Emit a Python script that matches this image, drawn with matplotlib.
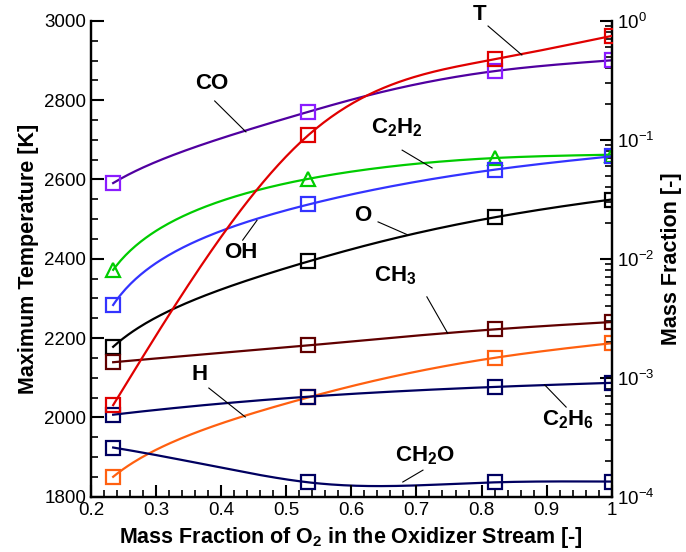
import numpy as np
import matplotlib.pyplot as plt
from matplotlib.ticker import MultipleLocator, LogLocator, NullFormatter, FuncFormatter

plt.rcParams['font.family'] = ['Liberation Sans', 'DejaVu Sans']
plt.rcParams['mathtext.fontset'] = 'custom'
plt.rcParams['mathtext.rm'] = 'Liberation Sans'
plt.rcParams['mathtext.bf'] = 'Liberation Sans:bold'

# data
x_o2 = [0.234, 0.534, 0.82, 1.0]
temp = [2031, 2712, 2903, 2962]
y_co = [0.0433, 0.172, 0.378, 0.466]
y_c2h2 = [0.00807, 0.047, 0.0703, 0.075]
y_oh = [0.00409, 0.0286, 0.0561, 0.0726]
y_o = [0.00182, 0.0095, 0.0223, 0.0315]
y_ch3 = [0.00135, 0.00187, 0.00255, 0.00294]
y_h = [0.000147, 0.000684, 0.00147, 0.00195]
y_c2h6 = [0.000489, 0.000693, 0.000837, 0.000906]
y_ch2o = [0.000259, 0.000132, 0.000132, 0.000134]


def spline(x, y, n=200):
    # natural cubic spline through the points, only for drawing the smooth line
    x = np.asarray(x, float)
    y = np.asarray(y, float)
    h = np.diff(x)
    k = len(x)
    A = np.zeros((k, k))
    b = np.zeros(k)
    A[0, 0] = A[-1, -1] = 1
    for i in range(1, k - 1):
        A[i, i - 1] = h[i - 1]
        A[i, i] = 2 * (h[i - 1] + h[i])
        A[i, i + 1] = h[i]
        b[i] = 6 * ((y[i + 1] - y[i]) / h[i] - (y[i] - y[i - 1]) / h[i - 1])
    M = np.linalg.solve(A, b)
    xs = np.linspace(x[0], x[-1], n)
    j = np.clip(np.searchsorted(x, xs) - 1, 0, k - 2)
    t1 = x[j + 1] - xs
    t0 = xs - x[j]
    ys = (M[j] * t1**3 + M[j + 1] * t0**3) / (6 * h[j]) \
        + (y[j] / h[j] - M[j] * h[j] / 6) * t1 \
        + (y[j + 1] / h[j] - M[j + 1] * h[j] / 6) * t0
    return xs, ys


fig = plt.figure(figsize=(6.86, 5.52), dpi=100)
ax = fig.add_axes([0.1327, 0.1002, 0.759, 0.862])
ax2 = ax.twinx()

# mass fractions on the log axis
series = [
    (y_co, '#5000a0', '#8a1cff', 's'),
    (y_c2h2, '#00cc00', '#00cc00', '^'),
    (y_oh, '#3333ff', '#3333ff', 's'),
    (y_o, 'black', 'black', 's'),
    (y_ch3, '#600000', '#600000', 's'),
    (y_h, '#ff6010', '#ff6010', 's'),
    (y_c2h6, '#000060', '#000060', 's'),
    (y_ch2o, '#000060', '#000060', 's'),
]
for vals, lc, mc, mk in series:
    xs, ys = spline(x_o2, vals)
    ax2.plot(xs, ys, color=lc, lw=1.6)
    ax2.plot(x_o2, vals, ls='none', marker=mk, ms=10, mfc='none', mec=mc, mew=1.6)

xs, ts = spline(x_o2, temp)
ax.plot(xs, ts, color='#e00000', lw=1.6, zorder=5)
ax.plot(x_o2, temp, ls='none', marker='s', ms=10, mfc='none', mec='#e00000', mew=1.6, zorder=5)
ax.set_zorder(ax2.get_zorder() + 1)
ax.patch.set_visible(False)

ax.set_xlim(0.2, 1.0)
ax.set_ylim(1800, 3000)
ax2.set_yscale('log')
ax2.set_ylim(1e-4, 1)

ax.xaxis.set_major_locator(MultipleLocator(0.1))
ax.xaxis.set_minor_locator(MultipleLocator(0.02))
ax.xaxis.set_major_formatter(FuncFormatter(lambda v, p: '%g' % round(v, 2)))
ax.yaxis.set_major_locator(MultipleLocator(200))
ax.yaxis.set_minor_locator(MultipleLocator(50))
ax2.yaxis.set_major_locator(LogLocator(base=10, numticks=10))
ax2.yaxis.set_minor_locator(LogLocator(base=10, subs=np.arange(2, 10), numticks=20))
ax2.yaxis.set_minor_formatter(NullFormatter())

for a in (ax, ax2):
    a.tick_params(which='major', direction='in', length=9, width=1.5, labelsize=13.5)
    a.tick_params(which='minor', direction='in', length=5, width=1.2)
    a.spines['top'].set_visible(False)
    for s in a.spines.values():
        s.set_linewidth(1.6)
ax.tick_params(axis='x', pad=4)

ax.set_xlabel(r'Mass Fraction of O$_\mathbf{2}$ in the Oxidizer Stream [-]', fontsize=15.5, fontweight='bold')
ax.set_ylabel('Maximum Temperature [K]', fontsize=15.5, fontweight='bold', labelpad=4)
ax2.set_ylabel('Mass Fraction [-]', fontsize=15.5, fontweight='bold', labelpad=5)

# curve labels with leader lines (temperature-axis coordinates)
labels = [
    ('T', (0.7975, 3017), (0.810, 2987), (0.862, 2914)),
    ('CO', (0.386, 2841), (0.390, 2798), (0.438, 2720)),
    (r'$\mathbf{C_2H_2}$', (0.670, 2730), (0.678, 2674), (0.724, 2629)),
    ('OH', (0.430, 2417), (0.433, 2447), (0.455, 2497)),
    ('O', (0.618, 2508), (0.641, 2493), (0.687, 2460)),
    (r'$\mathbf{CH_3}$', (0.668, 2357), (0.716, 2304), (0.748, 2212)),
    ('H', (0.367, 2107), (0.381, 2074), (0.437, 2001)),
    (r'$\mathbf{C_2H_6}$', (0.933, 1993), (0.897, 2082), (0.930, 2026)),
    (r'$\mathbf{CH_2O}$', (0.713, 1903), (0.710, 1867), (0.679, 1837)),
]
for txt, pos, p0, p1 in labels:
    ax.text(pos[0], pos[1], txt, fontsize=16, fontweight='bold', ha='center', va='center', zorder=6)
    ax.plot([p0[0], p1[0]], [p0[1], p1[1]], color='black', lw=0.8, zorder=6, clip_on=False)

fig.savefig('out.png', dpi=100)
